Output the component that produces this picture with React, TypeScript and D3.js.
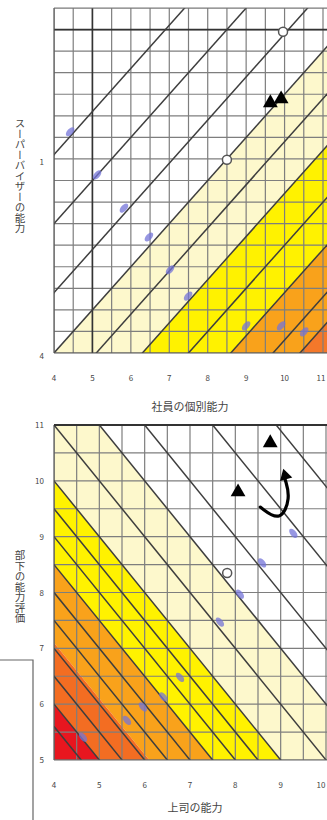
import React from "react";
import * as d3 from "d3";

const W = 327;
const H = 820;

// ---------- top panel data ----------
const topXTicks = [4, 5, 6, 7, 8, 9, 10, 11];
const topYTicks = [4, 8.5];
const topYTickLabels = ["4", "1"];
// contour lines y = x + c
const topContourC = [4.6, 3.0, 1.4, 0, -1.1, -2.3, -3.5, -4.6, -5.7, -6.4];
const topBandEdges = [0, -2.3, -4.6, -6.4];
const topBlueX = [4.42, 5.12, 5.82, 6.47, 7.02, 7.49, 9.0, 9.91, 10.51];
const topBlueY = [9.13, 8.13, 7.36, 6.69, 5.93, 5.32, 4.63, 4.63, 4.49];
const topTriX = [9.63, 9.91];
const topTriY = [9.8, 9.89];
const topCircleX = [8.5, 9.96];
const topCircleY = [8.48, 11.45];
const topXTitle = "社員の個別能力";
const topYTitle = "スーパーバイザーの能力";

// ---------- bottom panel data ----------
const botXTicks = [4, 5, 6, 7, 8, 9, 10];
const botXTickLabels = ["4", "5", "6", "7", "8", "9", "10"];
const botYTicks = [5, 6, 7, 8, 9, 10, 11];
// contour lines x + y = k
const botContourK = [9.6, 10, 10.5, 11, 11.5, 12, 12.5, 13, 13.5, 14, 15, 16, 17, 18.5, 19.9];
const botBandEdges = [16, 14, 12.5, 11.1, 10];
const botBlueX = [9.28, 8.59, 8.1, 7.66, 6.78, 6.41, 5.96, 5.61, 4.64];
const botBlueY = [9.06, 8.53, 7.97, 7.47, 6.48, 6.13, 5.95, 5.71, 5.41];
const botTriX = [8.77, 8.06];
const botTriY = [10.68, 9.8];
const botArrowX = [8.55, 9.0, 9.22, 9.1];
const botArrowY = [9.53, 9.25, 9.7, 10.02];
const botCircleX = [7.82];
const botCircleY = [8.35];
const botXTitle = "上司の能力";
const botYTitle = "部下の能力評価";

// ---------- styles ----------
const TOP_COLORS = ["#fdf8cc", "#fff200", "#f9a21b", "#f4782a"];
const BOT_COLORS = ["#fdf8cc", "#fff200", "#f9a21b", "#f36d22", "#e8161f"];
const GRID = "#7e7e7e";
const LINE = "#3e3e3e";
const BLUE = "#7474d8";
const FONT = "'Noto Sans CJK JP', 'Noto Sans', sans-serif";

const tx = d3.scaleLinear().domain([4, 11]).range([54, 323]);
const ty = d3.scaleLinear().domain([4, 12]).range([353, 8]);
const bx = d3.scaleLinear().domain([4, 10]).range([54, 326]);
const by = d3.scaleLinear().domain([5, 11]).range([760, 425]);

const poly = (pts: [number, number][], sx: any, sy: any) =>
  "M" + pts.map(([a, b]) => `${sx(a)},${sy(b)}`).join("L") + "Z";

export default function App() {
  const topGridX = d3.range(4, 11.51, 0.5);
  const topGridY = d3.range(4, 12.01, 0.5);
  const botGridX = d3.range(4, 10.51, 0.5);
  const botGridY = d3.range(5, 11.01, 0.5);

  const topBands = topBandEdges.map((hi, i) => {
    const lo = i + 1 < topBandEdges.length ? topBandEdges[i + 1] : -100;
    return poly([[-20, -20 + hi], [40, 40 + hi], [40, 40 + lo], [-20, -20 + lo]], tx, ty);
  });
  const botBands = botBandEdges.map((hi, i) => {
    const lo = i + 1 < botBandEdges.length ? botBandEdges[i + 1] : -100;
    return poly([[-20, hi + 20], [40, hi - 40], [40, lo - 40], [-20, lo + 20]], bx, by);
  });

  const tri = d3.symbol(d3.symbolTriangle, 95)() as string;
  const arrowPath = d3.line<number>()
    .x((i) => bx(botArrowX[i]))
    .y((i) => by(botArrowY[i]))
    .curve(d3.curveBasis)(botArrowX.map((_, i) => i)) as string;
  const aEndX = bx(botArrowX[botArrowX.length - 1]);
  const aEndY = by(botArrowY[botArrowY.length - 1]);

  const tickX = (px: number) => Math.min(px, W - 6);

  return (
    <svg width={W} height={H} style={{ position: "absolute", left: 0, top: 0, background: "#fff" }}>
      <defs>
        <clipPath id="clipTop">
          <rect x={54} y={8} width={W - 54} height={345} />
        </clipPath>
        <clipPath id="clipBot">
          <rect x={54} y={425} width={W - 54} height={335} />
        </clipPath>
      </defs>

      {/* ---------- TOP PANEL ---------- */}
      <g clipPath="url(#clipTop)">
        <rect x={54} y={8} width={W - 54} height={345} fill="#fff" />
        {topBands.map((d, i) => (
          <path key={i} d={d} fill={TOP_COLORS[i]} />
        ))}
        {topGridX.map((v) => (
          <line key={"gx" + v} x1={tx(v)} x2={tx(v)} y1={8} y2={353} stroke={GRID} strokeWidth={1.2} />
        ))}
        {topGridY.map((v) => (
          <line key={"gy" + v} x1={54} x2={W} y1={ty(v)} y2={ty(v)} stroke={GRID} strokeWidth={1.2} />
        ))}
        <line x1={tx(5)} x2={tx(5)} y1={8} y2={353} stroke="#333" strokeWidth={1.6} />
        <line x1={54} x2={W} y1={ty(11.5)} y2={ty(11.5)} stroke="#333" strokeWidth={1.8} />
        {topContourC.map((c) => (
          <line key={"c" + c} x1={tx(0)} y1={ty(0 + c)} x2={tx(16)} y2={ty(16 + c)} stroke={LINE} strokeWidth={1.5} />
        ))}
        {topBlueX.map((x, i) => (
          <ellipse key={"b" + i} cx={tx(x)} cy={ty(topBlueY[i])} rx={5.5} ry={3}
            transform={`rotate(-48 ${tx(x)} ${ty(topBlueY[i])})`} fill={BLUE} opacity={0.75} />
        ))}
        {topCircleX.map((x, i) => (
          <circle key={"o" + i} cx={tx(x)} cy={ty(topCircleY[i])} r={4.5} fill="#fff" stroke="#555" strokeWidth={1.5} />
        ))}
        {topTriX.map((x, i) => (
          <path key={"t" + i} d={tri} transform={`translate(${tx(x)},${ty(topTriY[i])})`} fill="#000" />
        ))}
      </g>
      <line x1={54} x2={54} y1={8} y2={353} stroke="#555" strokeWidth={1.2} />
      <line x1={54} x2={W} y1={353} y2={353} stroke="#555" strokeWidth={1.2} />
      <line x1={54} x2={W} y1={8} y2={8} stroke="#777" strokeWidth={1} />
      {topXTicks.map((v) => (
        <text key={"tx" + v} x={tickX(tx(v))} y={381} fontSize={8} fill="#444" textAnchor="middle" fontFamily={FONT}>{v}</text>
      ))}
      {topYTicks.map((v, i) => (
        <text key={"ty" + v} x={44} y={ty(v) + 6} fontSize={8} fill="#444" textAnchor="end" fontFamily={FONT}>{topYTickLabels[i]}</text>
      ))}
      <text x={190} y={411} fontSize={11} fill="#444" textAnchor="middle" fontFamily={FONT}>{topXTitle}</text>
      <text x={20} y={118} fontSize={10.5} fill="#444" fontFamily={FONT}
        style={{ writingMode: "vertical-rl" as any }}>{topYTitle}</text>

      {/* ---------- BOTTOM PANEL ---------- */}
      <g clipPath="url(#clipBot)">
        <rect x={54} y={425} width={W - 54} height={335} fill="#fff" />
        {botBands.map((d, i) => (
          <path key={i} d={d} fill={BOT_COLORS[i]} />
        ))}
        {botGridX.map((v) => (
          <line key={"bgx" + v} x1={bx(v)} x2={bx(v)} y1={425} y2={760} stroke={GRID} strokeWidth={1.2} />
        ))}
        {botGridY.map((v) => (
          <line key={"bgy" + v} x1={54} x2={W} y1={by(v)} y2={by(v)} stroke={GRID} strokeWidth={1.2} />
        ))}
        {botContourK.map((k) => (
          <line key={"k" + k} x1={bx(0)} y1={by(k)} x2={bx(20)} y2={by(k - 20)} stroke={LINE} strokeWidth={1.5} />
        ))}
        {botBlueX.map((x, i) => (
          <ellipse key={"bb" + i} cx={bx(x)} cy={by(botBlueY[i])} rx={5.5} ry={3}
            transform={`rotate(51 ${bx(x)} ${by(botBlueY[i])})`} fill={BLUE} opacity={0.75} />
        ))}
        {botCircleX.map((x, i) => (
          <circle key={"bo" + i} cx={bx(x)} cy={by(botCircleY[i])} r={4.5} fill="#fff" stroke="#555" strokeWidth={1.5} />
        ))}
        {botTriX.map((x, i) => (
          <path key={"bt" + i} d={tri} transform={`translate(${bx(x)},${by(botTriY[i])})`} fill="#000" />
        ))}
        <path d={arrowPath} fill="none" stroke="#000" strokeWidth={3.2} strokeLinecap="round" />
        <path d={d3.symbol(d3.symbolTriangle, 70)() as string}
          transform={`translate(${aEndX},${aEndY - 4}) rotate(-15)`} fill="#000" />
      </g>
      <line x1={54} x2={54} y1={425} y2={760} stroke="#555" strokeWidth={1.2} />
      <line x1={54} x2={W} y1={760} y2={760} stroke="#666" strokeWidth={1.2} />
      <line x1={54} x2={W} y1={425} y2={425} stroke="#333" strokeWidth={2} />
      {botXTicks.map((v, i) => (
        <text key={"bx" + v} x={tickX(bx(v))} y={788} fontSize={8} fill="#444" textAnchor="middle" fontFamily={FONT}>{botXTickLabels[i]}</text>
      ))}
      {botYTicks.map((v) => (
        <text key={"by" + v} x={44} y={by(v) + 3} fontSize={8} fill="#444" textAnchor="end" fontFamily={FONT}>{v}</text>
      ))}
      <text x={195} y={812} fontSize={11} fill="#444" textAnchor="middle" fontFamily={FONT}>{botXTitle}</text>
      <text x={20} y={550} fontSize={10.5} fill="#444" fontFamily={FONT}
        style={{ writingMode: "vertical-rl" as any }}>{botYTitle}</text>

      {/* left bracket */}
      <path d="M0,660 H33 V820" fill="none" stroke="#666" strokeWidth={1.2} />
    </svg>
  );
}
